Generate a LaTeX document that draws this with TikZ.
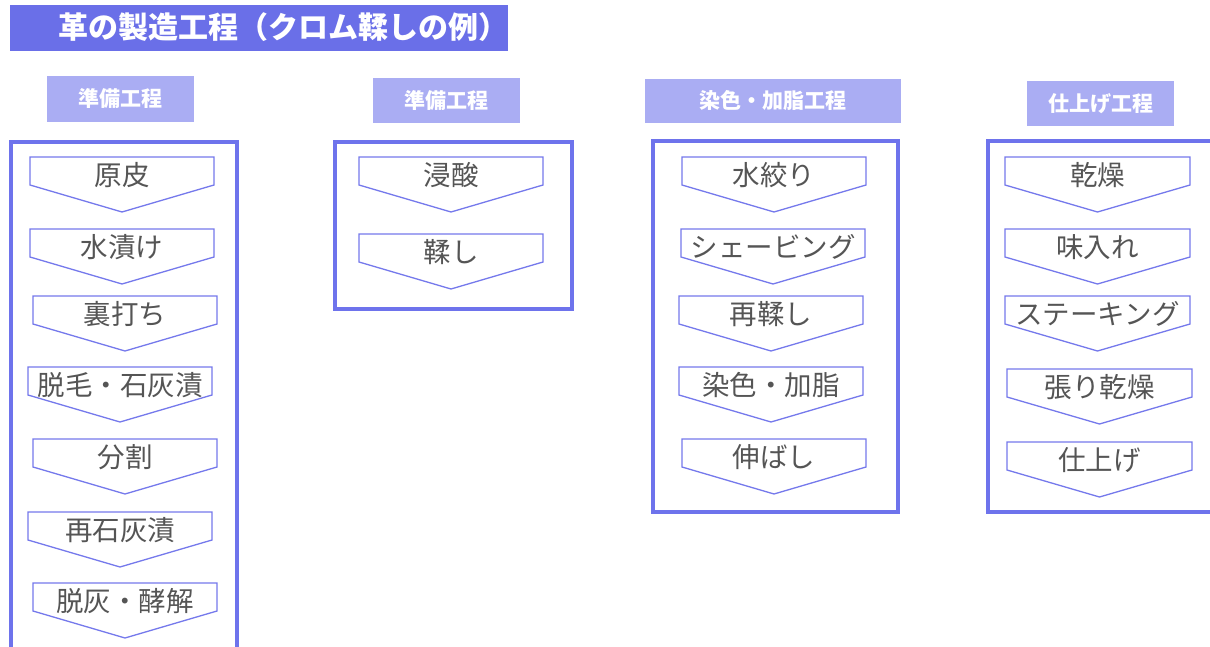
\documentclass[tikz,border=0pt]{standalone}
\usepackage{fontspec}
\newfontfamily\jp{Noto Sans CJK JP}
\definecolor{titleblue}{RGB}{106,111,232}
\definecolor{headblue}{RGB}{170,173,243}
\definecolor{frameblue}{RGB}{110,115,236}
\definecolor{chevblue}{RGB}{117,121,236}
\definecolor{txtgray}{RGB}{85,85,85}
\tikzset{
  titlebox/.style={fill=titleblue,draw=none},
  headbox/.style={fill=headblue,draw=none},
  framebox/.style={draw=frameblue,line width=3.2pt,fill=white},
  chevline/.style={draw=chevblue,line width=1.3pt,fill=white,line join=miter},
  chevtext/.style={font=\jp\fontsize{27.5}{30}\selectfont,text=txtgray,inner sep=0pt,anchor=center},
  headtext/.style={font=\jp\bfseries\fontsize{21}{24}\selectfont,text=white,inner sep=0pt,anchor=center},
  titletext/.style={font=\jp\bfseries\fontsize{30}{34}\selectfont,text=white,inner sep=0pt,anchor=center}
}
% \chev{name}{x1}{x2}{top}{text}
\newcommand{\chev}[5]{%
  \path[chevline] (#2,#4) -- (#3,#4) -- (#3,#4+28) -- ({(#2+#3)/2},#4+55) -- (#2,#4+28) -- cycle;
  \node[chevtext] (#1) at ({(#2+#3)/2},#4+18) {#5};
}
\begin{document}
\begin{tikzpicture}[x=1pt,y=-1pt]
\useasboundingbox (0,0) rectangle (1210,647);
\fill[white] (0,0) rectangle (1210,647);
\clip (0,0) rectangle (1210,647);
% title
\path[titlebox] (10,5) rectangle (508,51);
\node[titletext] (title) at (283,27) {革の製造工程（クロム鞣しの例）};
% headers
\path[headbox] (47,76) rectangle (194,122);
\node[headtext] (h1) at (120.5,99) {準備工程};
\path[headbox] (373,78) rectangle (520,123);
\node[headtext] (h2) at (446.5,100.5) {準備工程};
\path[headbox] (645,79) rectangle (901,123);
\node[headtext] (h3) at (773,101) {染色・加脂工程};
\path[headbox] (1027,81) rectangle (1174,126);
\node[headtext] (h4) at (1100.5,103.5) {仕上げ工程};
% frames
\path[framebox] (11,142) rectangle (237,670);
\path[framebox] (335,142) rectangle (572,309);
\path[framebox] (653,141) rectangle (898,512);
\path[framebox] (988,141) rectangle (1230,512);
% column 1
\chev{c1a}{30}{214}{157}{原皮}
\chev{c1b}{30}{214}{229}{水漬け}
\chev{c1c}{33}{217}{296}{裏打ち}
\chev{c1d}{28}{212}{367}{脱毛・石灰漬}
\chev{c1e}{33}{217}{439}{分割}
\chev{c1f}{28}{212}{512}{再石灰漬}
\chev{c1g}{33}{217}{583}{脱灰・酵解}
% column 2
\chev{c2a}{359}{543}{157}{浸酸}
\chev{c2b}{359}{543}{234}{鞣し}
% column 3
\chev{c3a}{682}{866}{157}{水絞り}
\chev{c3b}{681}{865}{229}{シェービング}
\chev{c3c}{679}{863}{296}{再鞣し}
\chev{c3d}{679}{863}{367}{染色・加脂}
\chev{c3e}{682}{866}{439}{伸ばし}
% column 4
\chev{c4a}{1005}{1190}{157}{乾燥}
\chev{c4b}{1005}{1190}{229}{味入れ}
\chev{c4c}{1005}{1190}{296}{ステーキング}
\chev{c4d}{1007}{1192}{369}{張り乾燥}
\chev{c4e}{1007}{1192}{442}{仕上げ}
\end{tikzpicture}
\end{document}
